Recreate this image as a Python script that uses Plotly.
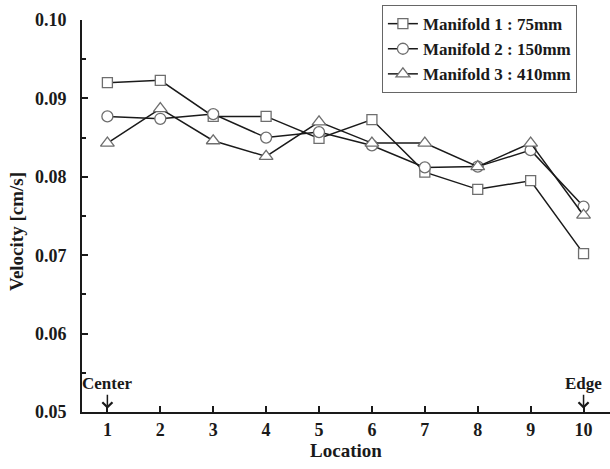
import plotly.graph_objects as go

# Measurement locations from the centre (1) to the edge (10) of the plate
locations = [1, 2, 3, 4, 5, 6, 7, 8, 9, 10]

# Mean velocity [cm/s] for each manifold size
manifold_1 = [0.0920, 0.0923, 0.0877, 0.0877, 0.0849, 0.0873, 0.0806, 0.0784, 0.0795, 0.0702]
manifold_2 = [0.0877, 0.0874, 0.0880, 0.0850, 0.0857, 0.0840, 0.0812, 0.0813, 0.0834, 0.0762]
manifold_3 = [0.0843, 0.0887, 0.0846, 0.0826, 0.0870, 0.0843, 0.0843, 0.0813, 0.0843, 0.0751]

series_names = ["Manifold 1 : 75mm", "Manifold 2 : 150mm", "Manifold 3 : 410mm"]
y_ticks = [0.05, 0.06, 0.07, 0.08, 0.09, 0.10]
y_tick_text = ["0.05", "0.06", "0.07", "0.08", "0.09", "0.10"]

FONT = "Liberation Serif, Times New Roman, serif"
INK = "#1a1a1a"
EDGE = "#6e6e6e"

fig = go.Figure()
styles = [("square", 10), ("circle", 11), ("triangle-up", 12)]
for name, values, (symbol, size) in zip(series_names, [manifold_1, manifold_2, manifold_3], styles):
    fig.add_trace(go.Scatter(
        x=locations, y=values, name=name, mode="lines+markers",
        line=dict(color=INK, width=1.5),
        marker=dict(symbol=symbol, size=size, color="white",
                    line=dict(color=EDGE, width=1.3)),
    ))

axis_font = dict(family=FONT, size=18, color=INK, weight="bold")

fig.update_layout(
    width=610, height=469,
    margin=dict(l=82, r=0, t=20, b=57, autoexpand=False),
    paper_bgcolor="white", plot_bgcolor="white",
    font=dict(family=FONT, color=INK),
    showlegend=True,
    legend=dict(
        x=0.568, y=1.038, xanchor="left", yanchor="top",
        bgcolor="white", bordercolor="#666666", borderwidth=1,
        font=dict(family=FONT, size=17, color=INK, weight="bold"),
        itemwidth=30,
    ),
    xaxis=dict(
        range=[0.52, 10.5], tickvals=locations,
        ticks="inside", ticklen=6, tickwidth=1.5, tickcolor=INK,
        showline=True, linewidth=2, linecolor=INK,
        showgrid=False, zeroline=False,
        tickfont=axis_font, ticklabelstandoff=0,
        title=dict(text="Location", font=dict(family=FONT, size=19, color=INK, weight="bold"), standoff=4),
    ),
    yaxis=dict(
        range=[0.05, 0.10], tickvals=y_ticks, ticktext=y_tick_text,
        ticks="inside", ticklen=6, tickwidth=1.5, tickcolor=INK,
        minor=dict(ticks="inside", ticklen=4, tickwidth=1.5, tickcolor=INK, dtick=0.005, tick0=0.05),
        showline=True, linewidth=2, linecolor=INK,
        showgrid=False, zeroline=False,
        tickfont=axis_font, ticklabelstandoff=10,
    ),
)

# Vertical axis title
fig.add_annotation(
    text="Velocity [cm/s]", textangle=-90, xref="paper", yref="paper",
    x=-0.125, y=0.459, xanchor="center", yanchor="middle", showarrow=False,
    font=dict(family=FONT, size=19, color=INK, weight="bold"),
)

# Centre / edge labels with downward arrows at the first and last locations
for loc, label in [(locations[0], "Center"), (locations[-1], "Edge")]:
    fig.add_annotation(
        text=label, x=loc, y=0.0504, xref="x", yref="y",
        showarrow=True, ax=0, ay=-25, axref="pixel", ayref="pixel",
        arrowhead=4, arrowsize=1.3, arrowwidth=1.5, arrowcolor=INK,
        font=dict(family=FONT, size=17, color=INK, weight="bold"),
    )

fig.write_html("out.html")
